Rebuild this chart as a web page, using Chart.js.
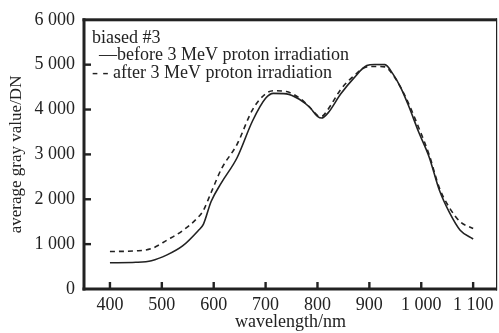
<!DOCTYPE html>
<html>
<head>
<meta charset="utf-8">
<script src="https://cdn.jsdelivr.net/npm/chart.js@4.4.0/dist/chart.umd.min.js"></script>
<style>
  html, body { margin: 0; padding: 0; background: #fff; }
  #wrap { width: 499px; height: 333px; }
</style>
</head>
<body>
<div id="wrap"><canvas id="lineChart"></canvas></div>
<script>
const wavelength = [400, 450, 480, 510, 540, 570, 580, 595, 615, 645, 675, 700, 715, 740, 765, 785, 800, 808, 820, 845, 870, 895, 910, 930, 945, 960, 975, 995, 1015, 1035, 1055, 1075, 1100];
const before = [585, 595, 630, 760, 960, 1300, 1440, 1950, 2370, 2925, 3750, 4250, 4360, 4350, 4230, 4050, 3850, 3810, 3920, 4350, 4700, 4980, 5005, 5000, 4800, 4500, 4100, 3500, 2950, 2200, 1690, 1310, 1115];
const after = [835, 850, 900, 1090, 1300, 1600, 1750, 2150, 2680, 3225, 4000, 4350, 4420, 4400, 4260, 4050, 3870, 3850, 4000, 4450, 4750, 4950, 4960, 4950, 4780, 4500, 4150, 3600, 3000, 2250, 1800, 1500, 1350];
const xTicks = [400, 500, 600, 700, 800, 900, 1000, 1100];
const yTicks = [0, 1000, 2000, 3000, 4000, 5000, 6000];
const legendLines = ['biased #3', '\u2014before 3 MeV proton irradiation', '- - after 3 MeV proton irradiation'];

const serif = "'Liberation Serif', 'DejaVu Serif', serif";
const ink = '#222';

function spaced(v) {
    return String(v).replace(/\B(?=(\d{3})+(?!\d))/g, ' ');
}

// frame, inward ticks and the legend text
const framePlugin = {
    id: 'frame',
    afterDraw(chart) {
        const ctx = chart.ctx;
        const a = chart.chartArea;
        const xs = chart.scales.x, ys = chart.scales.y;
        ctx.save();
        ctx.setLineDash([]);
        ctx.globalAlpha = 1;
        ctx.fillStyle = ink;
        ctx.fillRect(a.left - 1.5, a.top - 1.5, 3, a.bottom - a.top + 3);
        ctx.fillRect(a.left - 1.5, a.bottom - 1.5, a.right - a.left + 1.5, 3);
        ctx.fillRect(a.left - 1.5, a.top - 1.5, a.right - a.left + 1.5, 3);
        ctx.fillRect(a.right - 1, a.top - 1.5, 1.2, a.bottom - a.top + 3);
        xTicks.forEach(v => {
            const px = xs.getPixelForValue(v);
            ctx.fillRect(px - 1.2, a.bottom - 7, 2.4, 7);
        });
        yTicks.slice(1, -1).forEach(v => {
            const py = ys.getPixelForValue(v);
            ctx.fillRect(a.left, py - 1.2, 7, 2.4);
        });

        ctx.font = '18px ' + serif;
        ctx.textBaseline = 'alphabetic';
        ctx.textAlign = 'left';
        ctx.fillText(legendLines[0], a.left + 8, a.top + 23);
        ctx.fillText(legendLines[1], a.left + 15, a.top + 40);
        ctx.fillText(legendLines[2], a.left + 8, a.top + 58);
        ctx.restore();
    }
};

const chart = new Chart(document.getElementById('lineChart'), {
    type: 'line',
    data: {
        datasets: [{
            label: 'before 3 MeV proton irradiation',
            data: wavelength.map((w, i) => ({ x: w, y: before[i] })),
            borderColor: ink,
            borderWidth: 1.6,
            pointRadius: 0,
            cubicInterpolationMode: 'monotone',
            fill: false
        }, {
            label: 'after 3 MeV proton irradiation',
            data: wavelength.map((w, i) => ({ x: w, y: after[i] })),
            borderColor: ink,
            borderWidth: 1.6,
            borderDash: [5, 4],
            pointRadius: 0,
            cubicInterpolationMode: 'monotone',
            fill: false
        }]
    },
    options: {
        responsive: true,
        maintainAspectRatio: false,
        animation: false,
        events: [],
        layout: { padding: { left: 0, top: 17, right: 2, bottom: 0 } },
        plugins: {
            legend: { display: false },
            tooltip: { enabled: false }
        },
        scales: {
            x: {
                type: 'linear',
                min: 350,
                max: 1146,
                afterBuildTicks(scale) {
                    scale.ticks = xTicks.map(v => ({ value: v }));
                },
                afterFit(scale) { scale.height = 44; },
                grid: { display: false, drawTicks: false },
                border: { display: false },
                ticks: {
                    padding: 5,
                    color: ink,
                    font: { family: serif, size: 18 },
                    callback: v => spaced(v)
                },
                title: {
                    display: true,
                    text: 'wavelength/nm',
                    color: ink,
                    font: { family: serif, size: 18 },
                    padding: { top: 0, bottom: 0 }
                }
            },
            y: {
                min: 0,
                max: 6000,
                afterBuildTicks(scale) {
                    scale.ticks = yTicks.map(v => ({ value: v }));
                },
                afterFit(scale) { scale.width = 84; },
                grid: { display: false, drawTicks: false },
                border: { display: false },
                ticks: {
                    padding: 9,
                    color: ink,
                    font: { family: serif, size: 18 },
                    callback: v => spaced(v)
                },
                title: {
                    display: true,
                    text: 'average gray value/DN',
                    color: ink,
                    font: { family: serif, size: 17 },
                    padding: { top: 6, bottom: 0 }
                }
            }
        }
    },
    plugins: [framePlugin]
});
</script>
</body>
</html>
